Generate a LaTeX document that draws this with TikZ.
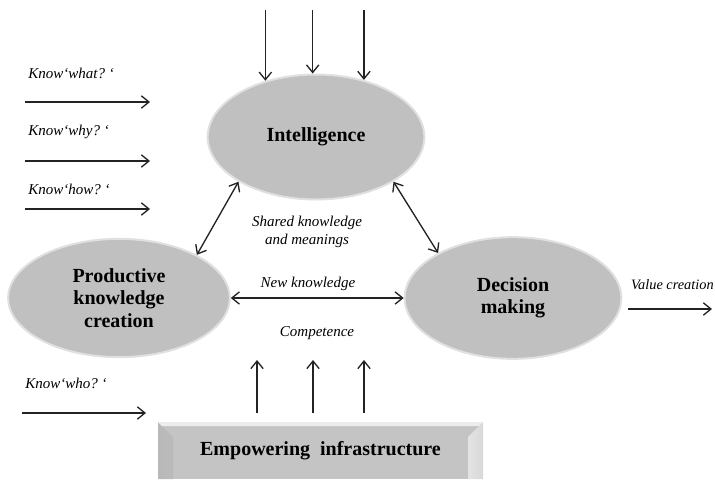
\documentclass[tikz,border=0pt]{standalone}
\usepackage{fontspec}
\setmainfont{Liberation Serif}
\definecolor{ovalgray}{RGB}{192, 192, 192}
\definecolor{rimgray}{RGB}{224, 224, 224}
\definecolor{facegray}{RGB}{196, 196, 196}
\definecolor{inkgray}{RGB}{35, 35, 35}
\usetikzlibrary{arrows.meta, positioning, shapes.geometric}
\tikzset{
	concept/.style={ellipse, fill=ovalgray, draw=rimgray, line width=1.2pt, inner sep=0pt, align=center, font=\fontsize{12}{13.5}\selectfont\bfseries},
	infra/.style={rectangle, fill=facegray, inner sep=0pt, minimum width=195pt, minimum height=34.2pt, font=\fontsize{12}{14}\selectfont\bfseries,
		path picture={
			% bevelled edges of the plate
			\shade[left color=gray!55, right color=gray!32] (path picture bounding box.north west) -- ([shift={(9pt,-9pt)}]path picture bounding box.north west) -- ([xshift=9pt]path picture bounding box.south west) -- (path picture bounding box.south west) -- cycle;
			\shade[left color=gray!22, right color=gray!30] (path picture bounding box.north east) -- ([shift={(-9pt,-9pt)}]path picture bounding box.north east) -- ([xshift=-9pt]path picture bounding box.south east) -- (path picture bounding box.south east) -- cycle;
			\fill[gray!14] (path picture bounding box.north west) -- (path picture bounding box.north east) -- ([shift={(-2.5pt,-2.5pt)}]path picture bounding box.north east) -- ([shift={(2.5pt,-2.5pt)}]path picture bounding box.north west) -- cycle;
		}},
	note/.style={font=\fontsize{9}{11}\selectfont\itshape, inner sep=0pt, align=center},
	arrow/.style={-{Straight Barb[length=1.6mm, width=2.6mm]}, line width=0.8pt, draw=inkgray},
	twoway/.style={{Straight Barb[length=1.6mm, width=2.6mm]}-{Straight Barb[length=1.6mm, width=2.6mm]}, line width=0.8pt, draw=inkgray},
}

\begin{document}
\begin{tikzpicture}[x=0.6pt, y=-0.6pt]
	\useasboundingbox (0,0) rectangle (715,479);
	% the three processes and the infrastructure below them
	\node[concept, minimum width=130pt, minimum height=75pt] (intel) at (316,137) {Intelligence};
	\node[concept, minimum width=133pt, minimum height=71pt] (prod) at (119,298) {Productive\\knowledge\\creation};
	\node[concept, minimum width=130pt, minimum height=73pt] (dec) at (513,298) {Decision\\making};
	\node[infra] (infra) at (320.5,450.5) {Empowering\ \ infrastructure};

	% labels
	\node[note, anchor=west] (what) at (28,73) {Know‘what?~‘};
	\node[note, anchor=west] (why) at (28,132) {Know‘why?~‘};
	\node[note, anchor=west] (how) at (28,189) {Know‘how?~‘};
	\node[note, anchor=west] (who) at (25,383) {Know‘who?~‘};
	\node[note] (shared) at (307,232) {Shared knowledge\\and meanings};
	\node[note] (newk) at (308,284) {New knowledge};
	\node[note] (compet) at (317,333) {Competence};
	\node[note, anchor=east, font=\fontsize{8.6}{10}\selectfont\itshape] (value) at (714,285) {Value creation};

	% free ends of the input and output arrows
	\coordinate (top) at (0,10);
	\coordinate (what0) at (25,102);  \coordinate (what1) at (150,102);
	\coordinate (why0) at (25,161);   \coordinate (why1) at (150,161);
	\coordinate (how0) at (25,209);   \coordinate (how1) at (150,209);
	\coordinate (who0) at (22,413);   \coordinate (who1) at (146,413);
	\coordinate (up1) at (257,413);   \coordinate (up1e) at (257,360);
	\coordinate (up2) at (313,413);   \coordinate (up2e) at (313,360);
	\coordinate (up3) at (364,413);   \coordinate (up3e) at (364,360);
	\coordinate (val0) at (628,309);  \coordinate (val1) at (712,309);

	\draw[arrow] (what0) -- (what1);
	\draw[arrow] (why0) -- (why1);
	\draw[arrow] (how0) -- (how1);
	\draw[arrow] (who0) -- (who1);
	\draw[arrow] (intel.132 |- top) -- (intel.132);
	\draw[arrow] (intel.93 |- top) -- (intel.93);
	\draw[arrow] (intel.50 |- top) -- (intel.50);
	\draw[arrow] (up1) -- (up1e);
	\draw[arrow] (up2) -- (up2e);
	\draw[arrow] (up3) -- (up3e);
	\draw[arrow] (val0) -- (val1);
	\draw[twoway] (intel.210) -- (prod.29);
	\draw[twoway] (intel.330) -- (dec.149);
	\draw[twoway] (prod.east) -- (dec.west);
\end{tikzpicture}
\end{document}
